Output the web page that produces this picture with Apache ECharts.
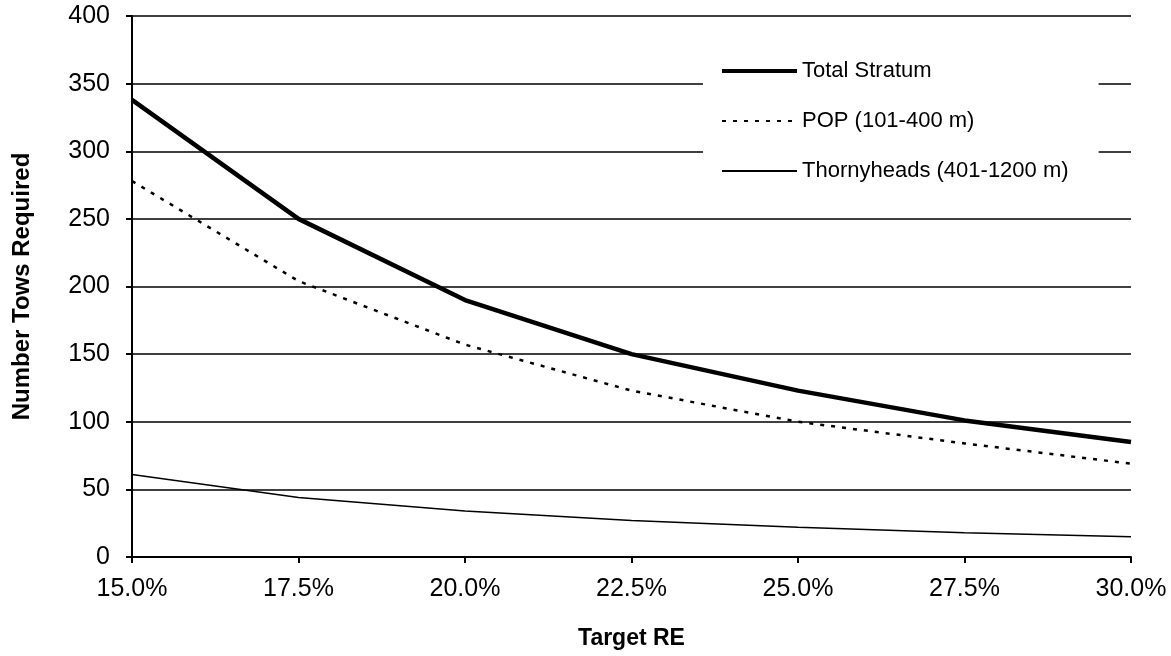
<!DOCTYPE html>
<html>
<head>
<meta charset="utf-8">
<script src="https://cdn.jsdelivr.net/npm/echarts@6/dist/echarts.min.js"></script>
<style>
  html, body { margin: 0; padding: 0; background: #fff; }
  #chart { width: 1171px; height: 656px; }
</style>
</head>
<body>
<div id="chart"></div>
<script>
// target relative error (%)
var targetRE = [15, 17.5, 20, 22.5, 25, 27.5, 30];
// tows required
var totalStratum = [338, 250, 190, 150, 123, 101, 85];
var popTows = [278, 204, 157, 123, 100, 84, 69];
var thornyTows = [61, 44, 34, 27, 22, 18, 15];

function pairs(ys) {
    return targetRE.map(function (x, i) { return [x, ys[i]]; });
}

var font = 'Liberation Sans, Arial, sans-serif';

var option = {
    animation: false,
    backgroundColor: '#fff',
    grid: { left: 132, right: 40, top: 16, bottom: 99 },
    legend: {
        orient: 'vertical',
        left: 703,
        top: 52,
        padding: [8, 30, 10, 17],
        backgroundColor: '#fff',
        itemWidth: 75,
        itemHeight: 14,
        itemGap: 28,
        itemStyle: { opacity: 0 },
        textStyle: { fontFamily: font, fontSize: 22, color: '#000', padding: [0, 0, 0, 0] },
        data: [
            { name: 'Total Stratum', lineStyle: { width: 4 } },
            { name: 'POP (101-400 m)' },
            { name: 'Thornyheads (401-1200 m)' }
        ]
    },
    xAxis: {
        type: 'value',
        min: 15,
        max: 30,
        interval: 2.5,
        name: 'Target RE',
        nameLocation: 'middle',
        nameGap: 70,
        nameTextStyle: { fontFamily: font, fontSize: 23, fontWeight: 'bold', color: '#000' },
        axisLine: { lineStyle: { color: '#000', width: 2 } },
        axisTick: { show: true, length: 6, lineStyle: { color: '#000', width: 2 } },
        axisLabel: {
            fontFamily: font, fontSize: 25, color: '#000', margin: 20,
            formatter: function (v) { return v.toFixed(1) + '%'; }
        },
        splitLine: { show: false }
    },
    yAxis: {
        type: 'value',
        min: 0,
        max: 400,
        interval: 50,
        name: 'Number Tows Required',
        nameLocation: 'middle',
        nameGap: 98,
        nameTextStyle: { fontFamily: font, fontSize: 24, fontWeight: 'bold', color: '#000' },
        axisLine: { show: true, lineStyle: { color: '#000', width: 2 } },
        axisTick: { show: true, length: 6, lineStyle: { color: '#000', width: 2 } },
        axisLabel: { fontFamily: font, fontSize: 25, color: '#000', margin: 22 },
        splitLine: { show: true, lineStyle: { color: '#000', width: 1.5 } }
    },
    series: [
        {
            name: 'Total Stratum',
            type: 'line',
            data: pairs(totalStratum),
            symbol: 'none',
            z: 5,
            lineStyle: { color: '#000', width: 4.5 },
            itemStyle: { color: '#000' }
        },
        {
            name: 'POP (101-400 m)',
            type: 'line',
            data: pairs(popTows),
            symbol: 'none',
            z: 4,
            lineStyle: { color: '#000', width: 2.5, type: [4, 7] },
            itemStyle: { color: '#000' }
        },
        {
            name: 'Thornyheads (401-1200 m)',
            type: 'line',
            data: pairs(thornyTows),
            symbol: 'none',
            z: 3,
            lineStyle: { color: '#000', width: 1.5 },
            itemStyle: { color: '#000' }
        }
    ]
};

var myChart = echarts.init(document.getElementById('chart'));
myChart.setOption(option);
</script>
</body>
</html>
